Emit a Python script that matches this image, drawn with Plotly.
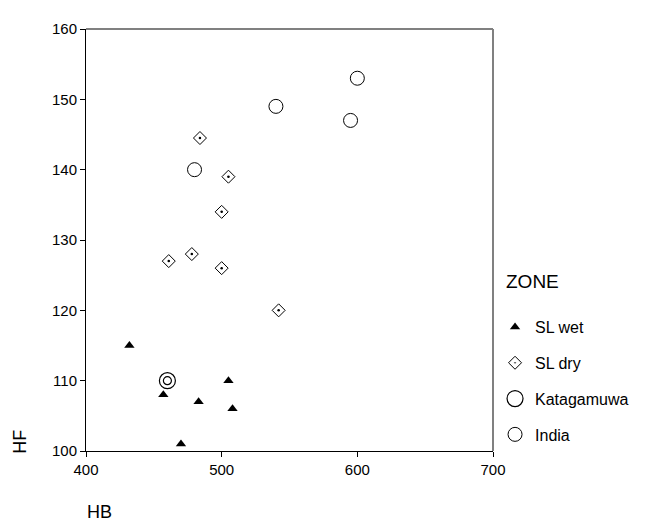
import plotly.graph_objects as go

# Data
wet_hb = [432, 457, 505, 483, 508, 470]
wet_hf = [115, 108, 110, 107, 106, 101]

dry_hb = [484, 505, 500, 478, 461, 500, 542]
dry_hf = [144.5, 139, 134, 128, 127, 126, 120]

kat_hb = [460]
kat_hf = [110]

ind_hb = [480, 540, 595, 600]
ind_hf = [140, 149, 147, 153]

x_ticks = [400, 500, 600, 700]
y_ticks = [100, 110, 120, 130, 140, 150, 160]

FONT = "Liberation Sans, Arial, sans-serif"

fig = go.Figure()
fig.add_trace(go.Scatter(x=wet_hb, y=wet_hf, mode="markers", name="SL wet",
                         legendgroup="a",
                         marker=dict(symbol="triangle-up", size=9, color="black",
                                     line=dict(width=0))))
fig.add_trace(go.Scatter(x=dry_hb, y=dry_hf, mode="markers", name="SL dry",
                         legendgroup="b",
                         marker=dict(symbol="diamond-open-dot", size=10, color="black",
                                     line=dict(width=1, color="black"))))
fig.add_trace(go.Scatter(x=dry_hb, y=dry_hf, mode="markers", name="SL dry",
                         legendgroup="b", showlegend=False,
                         marker=dict(symbol="circle", size=2.5, color="black",
                                     line=dict(width=0))))
fig.add_trace(go.Scatter(x=kat_hb, y=kat_hf, mode="markers", name="Katagamuwa",
                         legendgroup="c",
                         marker=dict(symbol="circle-open", size=16, color="black",
                                     line=dict(width=1.2, color="black"))))
fig.add_trace(go.Scatter(x=kat_hb, y=kat_hf, mode="markers", name="Katagamuwa",
                         legendgroup="c", showlegend=False,
                         marker=dict(symbol="circle-open", size=8, color="black",
                                     line=dict(width=1.2, color="black"))))
fig.add_trace(go.Scatter(x=ind_hb, y=ind_hf, mode="markers", name="India",
                         legendgroup="d",
                         marker=dict(symbol="circle-open", size=14, color="black",
                                     line=dict(width=1, color="black"))))

fig.update_layout(
    width=638, height=516,
    margin=dict(l=78, r=137, t=12, b=73),
    paper_bgcolor="white", plot_bgcolor="white",
    font=dict(family=FONT, size=15, color="black"),
    showlegend=True,
    legend=dict(
        x=1.005, y=0.334, xanchor="left", yanchor="top",
        font=dict(size=16),
        tracegroupgap=12,
        itemclick=False,
        bgcolor="rgba(0,0,0,0)",
    ),
    xaxis=dict(range=[400, 700], tickvals=x_ticks, showgrid=False, zeroline=False,
               showline=True, linecolor="black", linewidth=1,
               ticks="outside", ticklen=5, tickcolor="black",
               tickfont=dict(size=15)),
    yaxis=dict(range=[100, 160], tickvals=y_ticks, showgrid=False, zeroline=False,
               showline=True, linecolor="black", linewidth=1,
               ticks="outside", ticklen=5, tickcolor="black",
               tickfont=dict(size=15)),
    shapes=[
        dict(type="line", xref="paper", yref="paper", x0=0, x1=1, y0=1, y1=1,
             line=dict(color="#808080", width=2)),
        dict(type="line", xref="paper", yref="paper", x0=1, x1=1, y0=0, y1=1,
             line=dict(color="#808080", width=2)),
    ],
    annotations=[
        dict(text="HF", xref="paper", yref="paper", x=-0.161, y=0.023,
             textangle=-90, showarrow=False, font=dict(size=18),
             xanchor="center", yanchor="middle"),
        dict(text="HB", xref="paper", yref="paper", x=0.033, y=-0.144,
             showarrow=False, font=dict(size=18),
             xanchor="center", yanchor="middle"),
        dict(text="ZONE", xref="paper", yref="paper", x=1.026, y=0.401,
             showarrow=False, font=dict(size=19),
             xanchor="left", yanchor="middle"),
    ],
)

fig.write_html("out.html")
